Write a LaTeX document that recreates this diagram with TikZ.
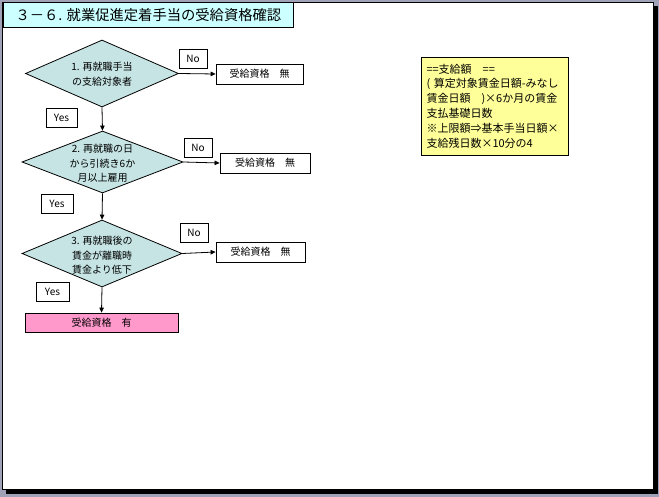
\documentclass[tikz,border=0pt]{standalone}
\usepackage{fontspec}
\setmainfont{Noto Sans CJK JP}
\usetikzlibrary{shapes.geometric,arrows.meta}
\definecolor{bgdither}{RGB}{160,162,184}
\definecolor{titlecyan}{RGB}{204,255,255}
\definecolor{dmdfill}{RGB}{198,228,228}
\definecolor{pinkfill}{RGB}{255,153,204}
\definecolor{notefill}{RGB}{255,255,153}
\begin{document}
\begin{tikzpicture}[x=1pt,y=-1pt,
  line width=0.8pt,
  dmd/.style={diamond,draw=black,fill=dmdfill,inner sep=0pt},
  dmdtext/.style={align=center,font=\fontsize{10}{14.5}\selectfont,inner sep=0pt},
  resbox/.style={rectangle,draw=black,fill=white,inner sep=0pt,minimum height=20pt,font=\fontsize{10}{12}\selectfont},
  ynbox/.style={rectangle,draw=black,fill=white,inner sep=0pt,minimum height=19pt,font=\fontsize{10}{12}\selectfont},
  arr/.style={draw=black,line width=0.8pt,-{Triangle[length=5pt,width=4.5pt]}}
]
\useasboundingbox (0,0) rectangle (659,497);
% frame
\fill[bgdither] (0,0) rectangle (659,497);
\fill[black] (6,6) rectangle (658,494);
\filldraw[fill=white,draw=black] (2,2) rectangle (653,489);
% title
\node[rectangle,draw=black,fill=titlecyan,minimum width=290pt,minimum height=25pt,inner sep=0pt,anchor=north west,
  font=\fontsize{14.3}{16}\selectfont] (title) at (3,2) {３－６. 就業促進定着手当の受給資格確認};
% diamonds
\node[dmd,minimum width=153pt,minimum height=67pt] (d1) at (102,73.5) {};
\node[dmdtext] (t1) at (102,74) {1. 再就職手当\\の支給対象者};
\node[dmd,minimum width=161pt,minimum height=62pt] (d2) at (102.5,162) {};
\node[dmdtext] (t2) at (102.5,163.5) {2. 再就職の日\\から引続き6か\\月以上雇用};
\node[dmd,minimum width=160pt,minimum height=67pt] (d3) at (102,253.5) {};
\node[dmdtext] (t3) at (102,255.5) {3. 再就職後の\\賃金が離職時\\賃金より低下};
% results
\node[resbox,minimum width=87pt] (r1) at (259.5,74) {受給資格　無};
\node[resbox,minimum width=90pt] (r2) at (265,163) {受給資格　無};
\node[resbox,minimum width=89pt] (r3) at (260.5,252) {受給資格　無};
\node[resbox,minimum width=153pt,minimum height=19pt,fill=pinkfill] (ok) at (101.5,322.5) {受給資格　有};
% yes/no
\node[ynbox,minimum width=28pt] (n1) at (193,58.5) {No};
\node[ynbox,minimum width=28pt] (n2) at (198,148) {No};
\node[ynbox,minimum width=28pt] (n3) at (194,232.5) {No};
\node[ynbox,minimum width=31pt] (y1) at (61.5,118) {Yes};
\node[ynbox,minimum width=32pt] (y2) at (57,204) {Yes};
\node[ynbox,minimum width=33pt] (y3) at (52.5,291.5) {Yes};
% note
\node[rectangle,draw=black,fill=notefill,minimum width=147pt,minimum height=98pt,inner xsep=5pt,inner ysep=0pt,
  text width=137pt,align=left,font=\fontsize{11}{14.8}\selectfont] (note) at (495,106)
  {==支給額　==\\( 算定対象賃金日額-みなし\\賃金日額　)×6か月の賃金\\支払基礎日数\\※上限額⇒基本手当日額×\\支給残日数×10分の4\\[4pt]};
% connectors
\draw[arr] (d1.east) -- (r1.west);
\draw[arr] (d2.east) -- (r2.west);
\draw[arr] (d3.east) -- (r3.west);
\draw[arr] (d1.south) -- (d2.north);
\draw[arr] (d2.south) -- (d3.north);
\draw[arr] (d3.south) -- (ok.north);
\end{tikzpicture}
\end{document}
